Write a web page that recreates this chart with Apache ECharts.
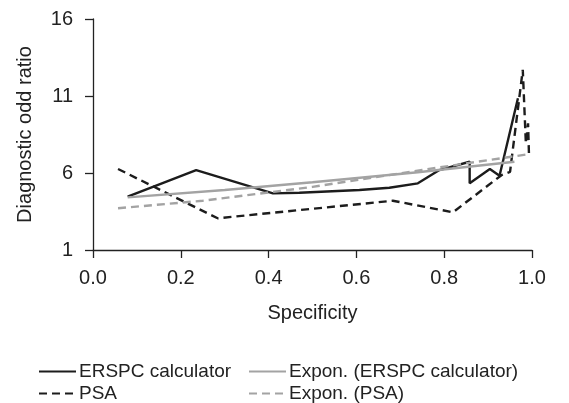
<!DOCTYPE html>
<html>
<head>
<meta charset="utf-8">
<title>Diagnostic odd ratio vs specificity</title>
<script src="https://cdn.jsdelivr.net/npm/echarts@6.0.0/dist/echarts.min.js"></script>
<style>
html, body { margin: 0; padding: 0; background: #fff; }
#chart { width: 569px; height: 403px; }
</style>
</head>
<body>
<div id="chart"></div>
<script>
// values
var erspcX = [0.079, 0.235, 0.41, 0.47, 0.607, 0.675, 0.74, 0.789, 0.858, 0.858, 0.904, 0.926, 0.968];
var erspcY = [4.46, 6.19, 4.68, 4.72, 4.9, 5.04, 5.33, 6.19, 6.73, 5.33, 6.26, 5.82, 10.85];

var psaX = [0.057, 0.284, 0.683, 0.82, 0.931, 0.95, 0.979, 0.986, 0.991, 0.993];
var psaY = [6.26, 3.06, 4.2, 3.45, 5.87, 6.08, 12.7, 7.93, 9.23, 7.3];

var expErspcX = [0.079, 0.3, 0.5, 0.74, 0.96];
var expErspcY = [4.42, 4.9, 5.4, 6.05, 6.73];

var expPsaX = [0.057, 0.25, 0.5, 0.75, 0.994];
var expPsaY = [3.71, 4.2, 5.1, 6.2, 7.23];

var xTicks = [0, 0.2, 0.4, 0.6, 0.8, 1.0];
var yTicks = [1, 6, 11, 16];

function pairs(xs, ys) {
    var out = [];
    for (var i = 0; i < xs.length; i++) {
        out.push([xs[i], ys[i]]);
    }
    return out;
}

var FONT = "Liberation Sans, Arial, sans-serif";
var TEXT = "#222";

function lineSeries(name, xs, ys, color, type) {
    return {
        name: name,
        type: "line",
        data: pairs(xs, ys),
        symbol: "none",
        silent: true,
        lineStyle: { color: color, width: 2.4, type: type },
        itemStyle: { color: color }
    };
}

// one legend per entry so the 2x2 layout is fixed
function legendAt(name, left, top) {
    return {
        left: left,
        top: top,
        itemWidth: 37,
        itemHeight: 14,
        itemGap: 0,
        itemStyle: { opacity: 0 },
        textStyle: { fontSize: 19, color: TEXT, fontFamily: FONT, padding: [0, 0, 0, -2] },
        data: [name]
    };
}

var chart = echarts.init(document.getElementById("chart"));
chart.setOption({
    animation: false,
    backgroundColor: "#fff",
    textStyle: { fontFamily: FONT, color: TEXT },
    grid: { left: 93, right: 37, top: 19, bottom: 153, containLabel: false },
    legend: [
        legendAt("ERSPC calculator", 33, 357),
        legendAt("PSA", 33, 379),
        legendAt("Expon. (ERSPC calculator)", 243, 357),
        legendAt("Expon. (PSA)", 243, 379)
    ],
    xAxis: {
        type: "value",
        min: xTicks[0],
        max: xTicks[xTicks.length - 1],
        interval: 0.2,
        name: "Specificity",
        nameLocation: "middle",
        nameGap: 53,
        nameTextStyle: { fontSize: 20, color: TEXT, fontFamily: FONT },
        axisLine: { lineStyle: { color: "#222", width: 1.3 } },
        axisTick: { show: true, inside: false, length: 8, lineStyle: { color: "#222", width: 1.3 } },
        axisLabel: {
            fontSize: 20, color: TEXT, margin: 18,
            formatter: function (v) { return v.toFixed(1); }
        },
        splitLine: { show: false }
    },
    yAxis: {
        type: "value",
        min: yTicks[0],
        max: yTicks[yTicks.length - 1],
        interval: 5,
        name: "Diagnostic odd ratio",
        nameLocation: "middle",
        nameGap: 58,
        nameTextStyle: { fontSize: 20, color: TEXT, fontFamily: FONT },
        axisLine: { show: true, lineStyle: { color: "#222", width: 1.3 } },
        axisTick: { show: true, inside: false, length: 8, lineStyle: { color: "#222", width: 1.3 } },
        axisLabel: { fontSize: 20, color: TEXT, margin: 20 },
        splitLine: { show: false }
    },
    series: [
        lineSeries("ERSPC calculator", erspcX, erspcY, "#1c1c1c", "solid"),
        lineSeries("PSA", psaX, psaY, "#1c1c1c", [8, 5]),
        lineSeries("Expon. (ERSPC calculator)", expErspcX, expErspcY, "#a3a3a3", "solid"),
        lineSeries("Expon. (PSA)", expPsaX, expPsaY, "#a3a3a3", [8, 5])
    ]
});
</script>
</body>
</html>
